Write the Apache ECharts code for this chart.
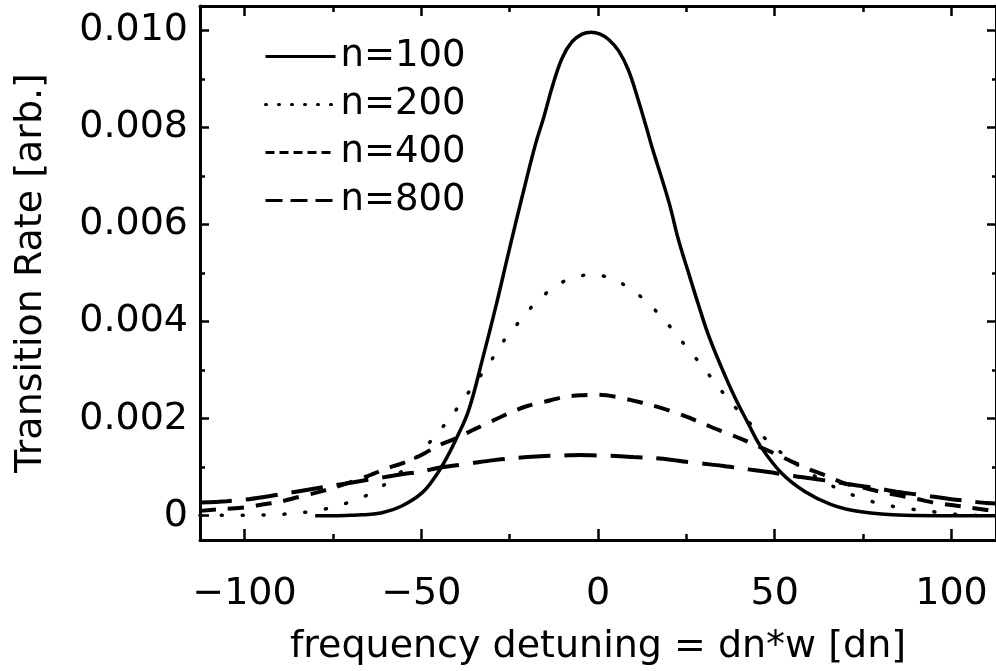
<!DOCTYPE html>
<html>
<head>
<meta charset="utf-8">
<script src="https://cdn.jsdelivr.net/npm/echarts@6/dist/echarts.min.js"></script>
<style>
html,body{margin:0;padding:0;background:#fff;}
#chart{width:996px;height:671px;}
</style>
</head>
<body>
<div id="chart"></div>
<script>
// ---- data ----
const seriesNames = ['n=100', 'n=200', 'n=400', 'n=800'];

const n100X = [-80, -75, -70, -66.8, -61.1, -55.5, -49.8, -46, -42.6, -39.8, -36.6, -32.8, -29, -25.2, -21.5, -17.7, -15.3, -13, -10.2, -7.4, -4.5, -1.9, 0.6, 3, 5.8, 8.6, 11.4, 13.8, 15.2, 20.1, 22.7, 25.5, 28.4, 31.2, 34.9, 38.7, 42.5, 45.8, 51.9, 58.5, 66, 74.4, 86.7, 100, 112.6];
const n100Y = [0, 0, 0.00001, 0.00002, 0.00006, 0.0002, 0.00047, 0.00081, 0.00122, 0.00163, 0.00217, 0.00319, 0.00428, 0.00545, 0.00656, 0.00765, 0.00822, 0.00882, 0.00942, 0.00976, 0.00992, 0.00996, 0.00992, 0.00981, 0.00958, 0.00918, 0.00856, 0.00797, 0.00761, 0.00645, 0.0057, 0.00503, 0.00435, 0.00373, 0.00306, 0.00244, 0.0019, 0.00145, 0.00088, 0.0005, 0.00023, 0.00008, 0.00001, 0, 0];

const n200X = [-112.6, -105.8, -99.2, -92.1, -85.6, -79, -72.4, -66, -60.4, -55, -50.5, -46.1, -41.9, -37.9, -30.3, -26.8, -22.6, -18.4, -13.5, -7.8, -1.2, 5.2, 10.8, 15.7, 20.1, 24.3, 28.4, 32.5, 36.6, 41.1, 45.6, 50.3, 55.4, 61, 66.9, 73.1, 79.6, 86.2, 92.9, 99.5, 105.9, 112.6];
const n200Y = [0.00001, 0.00001, 0.00001, 0.00002, 0.00005, 0.00011, 0.00023, 0.0004, 0.00064, 0.00095, 0.00128, 0.00164, 0.00201, 0.00241, 0.00319, 0.00359, 0.00397, 0.00433, 0.00465, 0.00489, 0.00497, 0.00484, 0.00459, 0.00427, 0.00392, 0.00354, 0.00318, 0.0028, 0.00242, 0.00205, 0.00171, 0.00139, 0.0011, 0.00083, 0.00059, 0.0004, 0.00025, 0.00016, 0.0001, 0.00004, 0.00001, 0];

const n400X = [-112.6, -106, -100, -95, -90, -85, -80, -75, -70, -65, -60, -55, -50, -45, -40, -35, -30, -25, -20, -15, -10, -5, 0, 5, 10, 15, 20, 25, 30, 35, 40, 45, 50, 55, 60, 65, 70, 75, 80, 85, 90, 95, 100, 105, 110, 112.6];
const n400Y = [0.0001, 0.00014, 0.00017, 0.00023, 0.00029, 0.00038, 0.00047, 0.00057, 0.00069, 0.00082, 0.00097, 0.00109, 0.00125, 0.00145, 0.0016, 0.00178, 0.00195, 0.00212, 0.00226, 0.00235, 0.00244, 0.00248, 0.00249, 0.00245, 0.00237, 0.00228, 0.00217, 0.00204, 0.00189, 0.00174, 0.0016, 0.00144, 0.00128, 0.00111, 0.00095, 0.00081, 0.00066, 0.00058, 0.00049, 0.00042, 0.00035, 0.00027, 0.00022, 0.00017, 0.00012, 0.0001];

const n800X = [-112.6, -105, -100, -95, -90, -85, -80, -75, -70, -65, -60, -55, -50, -45, -40, -35, -30, -25, -20, -15, -10, -5, 0, 5, 10, 15, 20, 25, 30, 35, 40, 45, 50, 55, 60, 65, 70, 75, 80, 85, 90, 95, 100, 105, 110, 112.6];
const n800Y = [0.00027, 0.0003, 0.00033, 0.00038, 0.00044, 0.0005, 0.00056, 0.00062, 0.00068, 0.00074, 0.0008, 0.00086, 0.00091, 0.00099, 0.00104, 0.00109, 0.00114, 0.00118, 0.00121, 0.00123, 0.00124, 0.00125, 0.00124, 0.00123, 0.00121, 0.00119, 0.00116, 0.00111, 0.00107, 0.00103, 0.00098, 0.00093, 0.00088, 0.00082, 0.00077, 0.00072, 0.00066, 0.00061, 0.00055, 0.00049, 0.00044, 0.00039, 0.00034, 0.0003, 0.00026, 0.00025];

const xMajorTicks = [-100, -50, 0, 50, 100];
const xMinorTicks = [-75, -25, 25, 75];
const yMajorTicks = [0, 0.002, 0.004, 0.006, 0.008, 0.010];
const yMinorTicks = [0.001, 0.003, 0.005, 0.007, 0.009];

const xTitle = 'frequency detuning = dn*w [dn]';
const yTitle = 'Transition Rate [arb.]';

// ---- chart ----
const FONT = 'DejaVu Sans';
const X_MIN = -112.6, X_MAX = 112.6, Y_MIN = -0.0005, Y_MAX = 0.0105;
const zip = (xs, ys) => xs.map((x, i) => [x, ys[i]]);

function xAx(pos, ticks, len, withLine, withLabel) {
  const a = {
    type: 'value', position: pos, min: X_MIN, max: X_MAX,
    splitLine: {show: false},
    axisLine: {show: withLine, onZero: false, lineStyle: {color: '#000', width: 3}},
    axisTick: {show: true, inside: true, length: len, customValues: ticks, lineStyle: {color: '#000', width: 2.5}},
    axisLabel: {show: false}
  };
  if (withLabel) {
    a.axisLabel = {
      show: true, customValues: xMajorTicks, margin: 35,
      fontSize: 38, fontFamily: FONT, color: '#000',
      formatter: v => String(v).replace('-', '\u2212')
    };
    a.name = xTitle;
    a.nameLocation = 'middle';
    a.nameGap = 88;
    a.nameTextStyle = {fontSize: 38, fontFamily: FONT, color: '#000'};
  }
  return a;
}
function yAx(pos, ticks, len, withLine, withLabel) {
  const a = {
    type: 'value', position: pos, min: Y_MIN, max: Y_MAX,
    splitLine: {show: false},
    axisLine: {show: withLine, onZero: false, lineStyle: {color: '#000', width: 3}},
    axisTick: {show: true, inside: true, length: len, customValues: ticks, lineStyle: {color: '#000', width: 2.5}},
    axisLabel: {show: false}
  };
  if (withLabel) {
    a.axisLabel = {
      show: true, customValues: yMajorTicks, margin: 12,
      fontSize: 38, fontFamily: FONT, color: '#000',
      formatter: v => (Math.abs(v) < 1e-12 ? '0' : v.toFixed(3))
    };
    a.name = yTitle;
    a.nameLocation = 'middle';
    a.nameGap = 150;
    a.nameTextStyle = {fontSize: 38, fontFamily: FONT, color: '#000'};
  }
  return a;
}

const noSym = {color: 'rgba(0,0,0,0)', borderColor: 'rgba(0,0,0,0)', borderWidth: 0, opacity: 0};

const chart = echarts.init(document.getElementById('chart'), null, {renderer: 'canvas'});
chart.setOption({
  animation: false,
  backgroundColor: '#fff',
  grid: {left: 200, top: 6, width: 799, height: 539, containLabel: false},
  xAxis: [
    xAx('bottom', xMajorTicks, 11, true, true),
    xAx('bottom', xMinorTicks, 6, false, false),
    xAx('top', xMajorTicks, 10, true, false),
    xAx('top', xMinorTicks, 6, false, false)
  ],
  yAxis: [
    yAx('left', yMajorTicks, 9, true, true),
    yAx('left', yMinorTicks, 5, false, false),
    yAx('right', yMajorTicks, 9, true, false),
    yAx('right', yMinorTicks, 4, false, false)
  ],
  legend: {
    orient: 'vertical', left: 264, top: 38, padding: 0,
    itemWidth: 70, itemHeight: 14, itemGap: 11,
    itemStyle: noSym,
    textStyle: {fontSize: 37, fontFamily: FONT, color: '#000'},
    data: [
      {name: seriesNames[0], itemStyle: noSym, lineStyle: {type: 'solid', width: 3, color: '#000'}},
      {name: seriesNames[1], itemStyle: noSym, lineStyle: {type: [1, 12], width: 3, cap: 'round', color: '#000'}},
      {name: seriesNames[2], itemStyle: noSym, lineStyle: {type: [9, 5], width: 3, color: '#000'}},
      {name: seriesNames[3], itemStyle: noSym, lineStyle: {type: [17, 8], width: 3, color: '#000'}}
    ]
  },
  series: [
    {name: seriesNames[0], type: 'line', data: zip(n100X, n100Y), symbol: 'none', smooth: 0.4,
     lineStyle: {color: '#000', width: 3.5, type: 'solid'}, itemStyle: {color: '#000'}},
    {name: seriesNames[1], type: 'line', data: zip(n200X, n200Y), symbol: 'none', smooth: 0.3,
     lineStyle: {color: '#000', width: 3.5, type: [1, 20], cap: 'round'}, itemStyle: {color: '#000'}},
    {name: seriesNames[2], type: 'line', data: zip(n400X, n400Y), symbol: 'none', smooth: 0.3,
     lineStyle: {color: '#000', width: 4, type: [16, 12]}, itemStyle: {color: '#000'}},
    {name: seriesNames[3], type: 'line', data: zip(n800X, n800Y), symbol: 'none', smooth: 0.3,
     lineStyle: {color: '#000', width: 4, type: [32, 14]}, itemStyle: {color: '#000'}}
  ]
});
</script>
</body>
</html>
